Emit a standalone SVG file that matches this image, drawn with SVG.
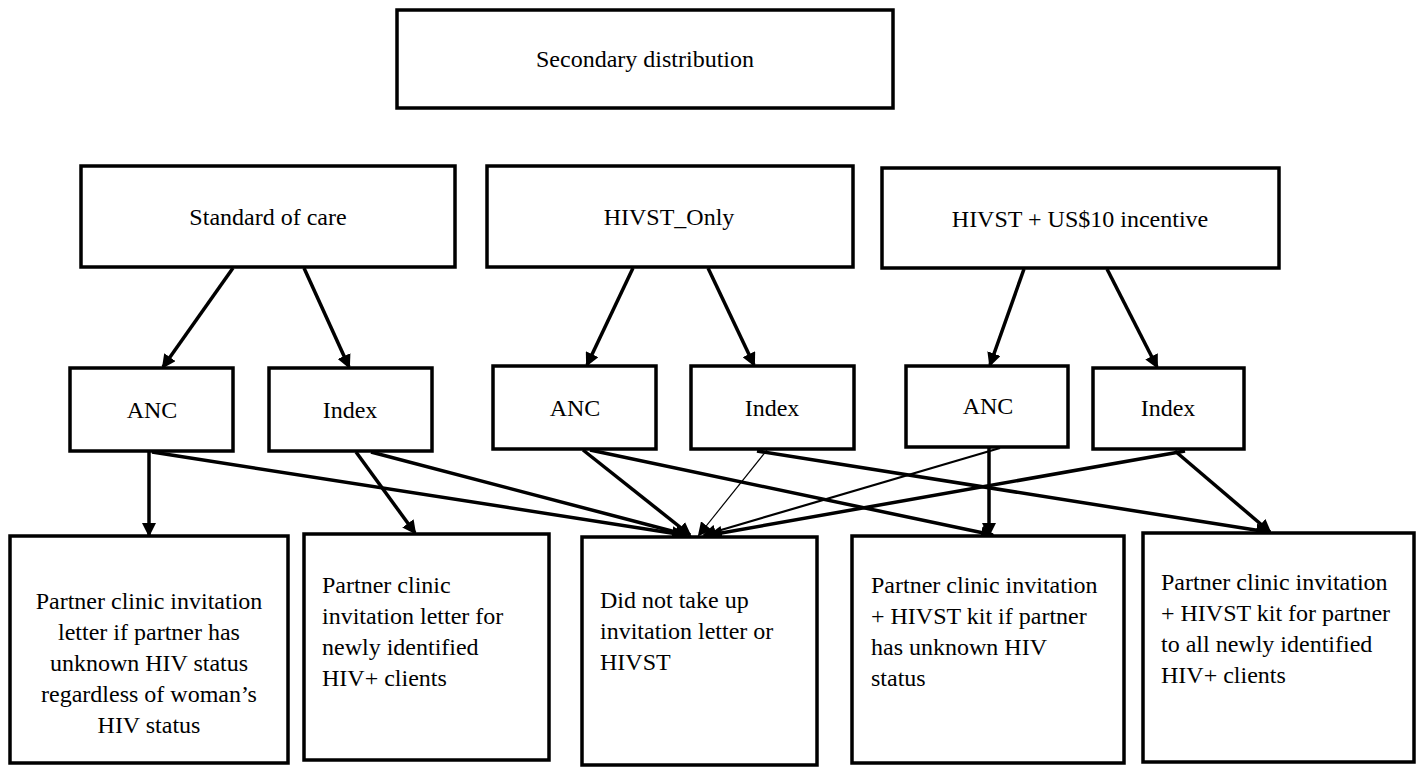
<svg xmlns="http://www.w3.org/2000/svg" width="1425" height="770" viewBox="0 0 1425 770">
<style>
.box{fill:#fff;stroke:#000;stroke-width:3.5}
text{font-family:'Liberation Serif','Times New Roman','DejaVu Serif',serif;font-size:24px;fill:#000}
.c{text-anchor:middle}
.a{stroke:#000;stroke-width:3.5;fill:none;marker-end:url(#ah)}
.a1{stroke:#000;stroke-width:1.2;fill:none;marker-end:url(#ah)}
.a2{stroke:#000;stroke-width:2.2;fill:none;marker-end:url(#ah)}
</style>
<defs>
<marker id="ah" markerUnits="userSpaceOnUse" markerWidth="16" markerHeight="14" refX="12" refY="7" orient="auto">
<path d="M0,0 L14,7 L0,14 z" fill="#000"/>
</marker>
</defs>
<rect width="1425" height="770" fill="#fff"/>
<g id="connectors">
<line class="a" x1="233" y1="268" x2="163" y2="367"/>
<line class="a" x1="304" y1="268" x2="349" y2="367"/>
<line class="a" x1="633" y1="268" x2="587" y2="365"/>
<line class="a" x1="708" y1="268" x2="754" y2="365"/>
<line class="a" x1="1024" y1="269" x2="990" y2="365"/>
<line class="a" x1="1107" y1="269" x2="1157" y2="367"/>
<line class="a" x1="149" y1="452" x2="149" y2="535"/>
<line class="a" x1="152" y1="452" x2="684" y2="535"/>
<line class="a" x1="356" y1="452" x2="415" y2="533"/>
<line class="a" x1="371" y1="452" x2="687" y2="535"/>
<line class="a" x1="583" y1="450" x2="690" y2="535"/>
<line class="a" x1="590" y1="450" x2="993" y2="535"/>
<line class="a1" x1="767" y1="450" x2="699" y2="535"/>
<line class="a" x1="757" y1="451" x2="1268" y2="532"/>
<line class="a2" x1="1000" y1="448" x2="704" y2="535"/>
<line class="a" x1="989" y1="448" x2="989" y2="535"/>
<line class="a" x1="1185" y1="451" x2="710" y2="535"/>
<line class="a" x1="1175" y1="451" x2="1270" y2="532"/>
</g>
<g id="n-secondary"><rect class="box" x="397" y="10" width="496" height="98"/><text font-family="Liberation Serif, serif" class="c" x="645" y="67">Secondary distribution</text></g>
<g id="n-soc"><rect class="box" x="81" y="166" width="374" height="101"/><text font-family="Liberation Serif, serif" class="c" x="268" y="225">Standard of care</text></g>
<g id="n-hivstonly"><rect class="box" x="487" y="166" width="366" height="101"/><text font-family="Liberation Serif, serif" class="c" x="669" y="225">HIVST_Only</text></g>
<g id="n-hivstinc"><rect class="box" x="882" y="168" width="397" height="100"/><text font-family="Liberation Serif, serif" class="c" x="1080" y="227">HIVST + US$10 incentive</text></g>
<g id="n-anc1"><rect class="box" x="70" y="368" width="163" height="83"/><text font-family="Liberation Serif, serif" class="c" x="152" y="418">ANC</text></g>
<g id="n-index1"><rect class="box" x="269" y="368" width="163" height="83"/><text font-family="Liberation Serif, serif" class="c" x="350" y="418">Index</text></g>
<g id="n-anc2"><rect class="box" x="493" y="366" width="163" height="83"/><text font-family="Liberation Serif, serif" class="c" x="575" y="416">ANC</text></g>
<g id="n-index2"><rect class="box" x="691" y="366" width="163" height="83"/><text font-family="Liberation Serif, serif" class="c" x="772" y="416">Index</text></g>
<g id="n-anc3"><rect class="box" x="906" y="366" width="162" height="81"/><text font-family="Liberation Serif, serif" class="c" x="988" y="414">ANC</text></g>
<g id="n-index3"><rect class="box" x="1093" y="368" width="151" height="81"/><text font-family="Liberation Serif, serif" class="c" x="1168" y="416">Index</text></g>
<g id="n-b1"><rect class="box" x="10" y="536" width="278" height="227"/>
<text font-family="Liberation Serif, serif" class="c" x="149"><tspan x="149" y="609">Partner clinic invitation</tspan><tspan x="149" y="640">letter if partner has</tspan><tspan x="149" y="671">unknown HIV status</tspan><tspan x="149" y="702">regardless of woman’s</tspan><tspan x="149" y="733">HIV status</tspan></text></g>
<g id="n-b2"><rect class="box" x="304" y="534" width="245" height="226"/>
<text font-family="Liberation Serif, serif"><tspan x="322" y="593">Partner clinic</tspan><tspan x="322" y="624">invitation letter for</tspan><tspan x="322" y="655">newly identified</tspan><tspan x="322" y="686">HIV+ clients</tspan></text></g>
<g id="n-b3"><rect class="box" x="582" y="537" width="235" height="228"/>
<text font-family="Liberation Serif, serif"><tspan x="600" y="608">Did not take up</tspan><tspan x="600" y="639">invitation letter or</tspan><tspan x="600" y="670">HIVST</tspan></text></g>
<g id="n-b4"><rect class="box" x="852" y="536" width="272" height="227"/>
<text font-family="Liberation Serif, serif"><tspan x="871" y="593">Partner clinic invitation</tspan><tspan x="871" y="624">+ HIVST kit if partner</tspan><tspan x="871" y="655">has unknown HIV</tspan><tspan x="871" y="686">status</tspan></text></g>
<g id="n-b5"><rect class="box" x="1143" y="533" width="271" height="229"/>
<text font-family="Liberation Serif, serif"><tspan x="1161" y="590">Partner clinic invitation</tspan><tspan x="1161" y="621">+ HIVST kit for partner</tspan><tspan x="1161" y="652">to all newly identified</tspan><tspan x="1161" y="683">HIV+ clients</tspan></text></g>
</svg>
